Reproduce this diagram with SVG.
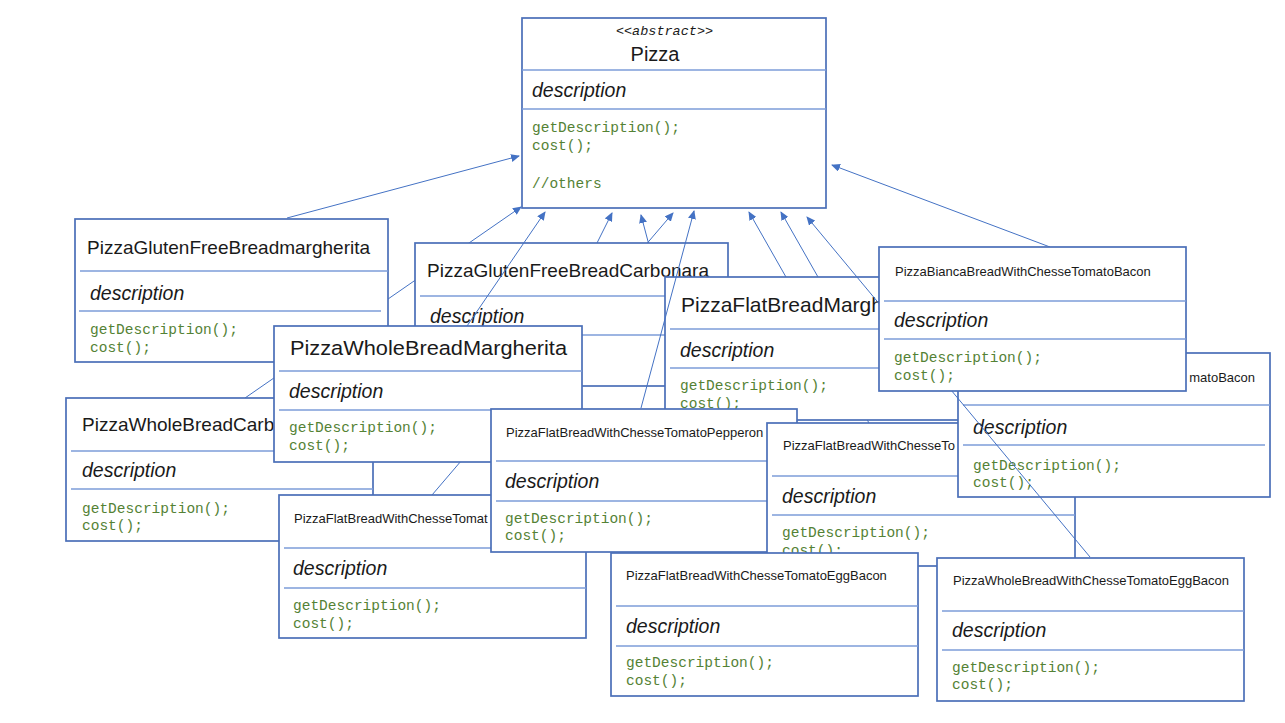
<svg xmlns="http://www.w3.org/2000/svg" width="1285" height="723" viewBox="0 0 1285 723">
<defs>
<marker id="arr" markerUnits="userSpaceOnUse" markerWidth="9" markerHeight="8" refX="8" refY="4" orient="auto">
<path d="M0,0 L9,4 L0,8 z" fill="#4472C4"/>
</marker>
<style>
.box{fill:#fff;stroke:#4a6fb8;stroke-width:1.7}
.dv{stroke:#7d9cd8;stroke-width:1.5}
.tb{font-family:"Liberation Sans",Arial,sans-serif;font-size:19px;fill:#1a1a1a}
.ts{font-family:"Liberation Sans",Arial,sans-serif;font-size:13px;fill:#1a1a1a}
.ds{font-family:"Liberation Sans",Arial,sans-serif;font-style:italic;font-size:19.5px;fill:#1a1a1a}
.cd{font-family:"Liberation Mono","DejaVu Sans Mono",monospace;font-size:14.5px;fill:#548235}
.cn{stroke:#4472C4;stroke-width:1;fill:none;marker-end:url(#arr)}
</style>
</defs>
<rect width="1285" height="723" fill="#fff"/>

<g id="Pizza">
<rect class="box" x="522" y="18" width="304" height="190"/>
<line class="dv" x1="522" y1="70" x2="826" y2="70"/>
<line class="dv" x1="522" y1="109" x2="826" y2="109"/>
<text x="664.5" y="35" text-anchor="middle" style="font-family:'Liberation Mono',monospace;font-style:italic;font-size:13.5px;fill:#1a1a1a">&lt;&lt;abstract&gt;&gt;</text>
<text class="tb" x="655" y="61" text-anchor="middle" style="font-size:20px">Pizza</text>
<text class="ds" x="532" y="97">description</text>
<text class="cd" x="532" y="132">getDescription();</text>
<text class="cd" x="532" y="150">cost();</text>
<text class="cd" x="532" y="188">//others</text>
</g>

<g id="connectors">
<line class="cn" x1="287" y1="218" x2="519" y2="156"/>
<line class="cn" x1="245" y1="398" x2="521" y2="207"/>
<line class="cn" x1="597" y1="243" x2="612" y2="213"/>
<line class="cn" x1="731" y1="553" x2="641" y2="215"/>
<line class="cn" x1="432" y1="495" x2="673" y2="213"/>
<line class="cn" x1="869" y1="423" x2="749" y2="212"/>
<line class="cn" x1="818" y1="277" x2="781" y2="212"/>
<line class="cn" x1="1050" y1="247" x2="832" y2="165"/>
</g>

<g id="PizzaGlutenFreeBreadmargherita">
<rect class="box" x="75" y="219" width="313" height="143"/>
<line class="dv" x1="80" y1="271" x2="388" y2="271"/>
<line class="dv" x1="79" y1="311" x2="381" y2="311"/>
<text class="tb" x="87" y="254">PizzaGlutenFreeBreadmargherita</text>
<text class="ds" x="90" y="300">description</text>
<text class="cd" x="90" y="334">getDescription();</text>
<text class="cd" x="90" y="352">cost();</text>
</g>

<g id="PizzaGlutenFreeBreadCarbonara">
<rect class="box" x="415" y="243" width="313" height="143"/>
<line class="dv" x1="420" y1="296" x2="728" y2="296"/>
<line class="dv" x1="420" y1="335" x2="728" y2="335"/>
<text class="tb" x="427" y="277">PizzaGlutenFreeBreadCarbonara</text>
<text class="ds" x="430" y="323">description</text>
</g>

<g id="PizzaWholeBreadCarbonara">
<rect class="box" x="66" y="398" width="307" height="143"/>
<line class="dv" x1="71" y1="451" x2="373" y2="451"/>
<line class="dv" x1="71" y1="489" x2="373" y2="489"/>
<text class="tb" x="82" y="431">PizzaWholeBreadCarb</text>
<text class="ds" x="82" y="477">description</text>
<text class="cd" x="82" y="513">getDescription();</text>
<text class="cd" x="82" y="530">cost();</text>
</g>

<g id="PizzaWholeBreadMargherita">
<rect class="box" x="274" y="326" width="308" height="136"/>
<line class="dv" x1="279" y1="371" x2="582" y2="371"/>
<line class="dv" x1="279" y1="410" x2="582" y2="410"/>
<text class="tb" x="290" y="355" style="font-size:20.5px" textLength="277" lengthAdjust="spacingAndGlyphs">PizzaWholeBreadMargherita</text>
<text class="ds" x="289" y="398">description</text>
<text class="cd" x="289" y="432">getDescription();</text>
<text class="cd" x="289" y="450">cost();</text>
</g>

<g id="PizzaFlatBreadWithChesseTomat">
<rect class="box" x="279" y="495" width="307" height="143"/>
<line class="dv" x1="284" y1="548" x2="586" y2="548"/>
<line class="dv" x1="284" y1="588" x2="586" y2="588"/>
<text class="ts" x="294" y="523">PizzaFlatBreadWithChesseTomat</text>
<text class="ds" x="293" y="575">description</text>
<text class="cd" x="293" y="610">getDescription();</text>
<text class="cd" x="293" y="628">cost();</text>
</g>

<g id="PizzaFlatBreadMargherita">
<rect class="box" x="665" y="277" width="307" height="143"/>
<line class="dv" x1="670" y1="329" x2="972" y2="329"/>
<line class="dv" x1="670" y1="368" x2="972" y2="368"/>
<text class="tb" x="681" y="312" style="font-size:21px">PizzaFlatBreadMargh</text>
<text class="ds" x="680" y="357">description</text>
<text class="cd" x="680" y="390">getDescription();</text>
<text class="cd" x="680" y="408">cost();</text>
</g>

<g id="PizzaFlatBreadWithChesseTomatoPepperoni">
<rect class="box" x="491" y="409" width="306" height="143"/>
<line class="dv" x1="496" y1="461" x2="797" y2="461"/>
<line class="dv" x1="496" y1="501" x2="797" y2="501"/>
<text class="ts" x="506" y="437">PizzaFlatBreadWithChesseTomatoPepperon</text>
<text class="ds" x="505" y="488">description</text>
<text class="cd" x="505" y="523">getDescription();</text>
<text class="cd" x="505" y="540">cost();</text>
</g>

<g id="PizzaFlatBreadWithChesseTo">
<rect class="box" x="767" y="423" width="308" height="143"/>
<line class="dv" x1="772" y1="476" x2="1075" y2="476"/>
<line class="dv" x1="772" y1="515" x2="1075" y2="515"/>
<text class="ts" x="783" y="450">PizzaFlatBreadWithChesseTo</text>
<text class="ds" x="782" y="503">description</text>
<text class="cd" x="782" y="537">getDescription();</text>
<text class="cd" x="782" y="555">cost();</text>
</g>

<g id="PizzaTomatoBacon">
<rect class="box" x="958" y="353" width="312" height="144"/>
<line class="dv" x1="963" y1="405" x2="1270" y2="405"/>
<line class="dv" x1="963" y1="445" x2="1265" y2="445"/>
<text class="ts" x="1255" y="382" text-anchor="end">matoBacon</text>
<text class="ds" x="973" y="434">description</text>
<text class="cd" x="973" y="470">getDescription();</text>
<text class="cd" x="973" y="487">cost();</text>
</g>

<g id="connectors-front">
<line class="cn" x1="467" y1="326" x2="545" y2="212"/>
<line class="cn" x1="641" y1="408" x2="694" y2="211"/>
<line class="cn" x1="1090" y1="557" x2="807" y2="217"/>
</g>

<g id="PizzaBiancaBreadWithChesseTomatoBacon">
<rect class="box" x="879" y="247" width="307" height="144"/>
<line class="dv" x1="884" y1="301" x2="1186" y2="301"/>
<line class="dv" x1="884" y1="339" x2="1186" y2="339"/>
<text class="ts" x="895" y="276">PizzaBiancaBreadWithChesseTomatoBacon</text>
<text class="ds" x="894" y="327">description</text>
<text class="cd" x="894" y="362">getDescription();</text>
<text class="cd" x="894" y="380">cost();</text>
</g>

<g id="PizzaFlatBreadWithChesseTomatoEggBacon">
<rect class="box" x="611" y="553" width="307" height="143"/>
<line class="dv" x1="616" y1="606" x2="918" y2="606"/>
<line class="dv" x1="616" y1="646" x2="918" y2="646"/>
<text class="ts" x="626" y="580">PizzaFlatBreadWithChesseTomatoEggBacon</text>
<text class="ds" x="626" y="633">description</text>
<text class="cd" x="626" y="667">getDescription();</text>
<text class="cd" x="626" y="685">cost();</text>
</g>

<g id="PizzaWholeBreadWithChesseTomatoEggBacon">
<rect class="box" x="937" y="558" width="307" height="143"/>
<line class="dv" x1="942" y1="611" x2="1244" y2="611"/>
<line class="dv" x1="942" y1="650" x2="1244" y2="650"/>
<text class="ts" x="953" y="585">PizzaWholeBreadWithChesseTomatoEggBacon</text>
<text class="ds" x="952" y="637">description</text>
<text class="cd" x="952" y="672">getDescription();</text>
<text class="cd" x="952" y="689">cost();</text>
</g>
</svg>
